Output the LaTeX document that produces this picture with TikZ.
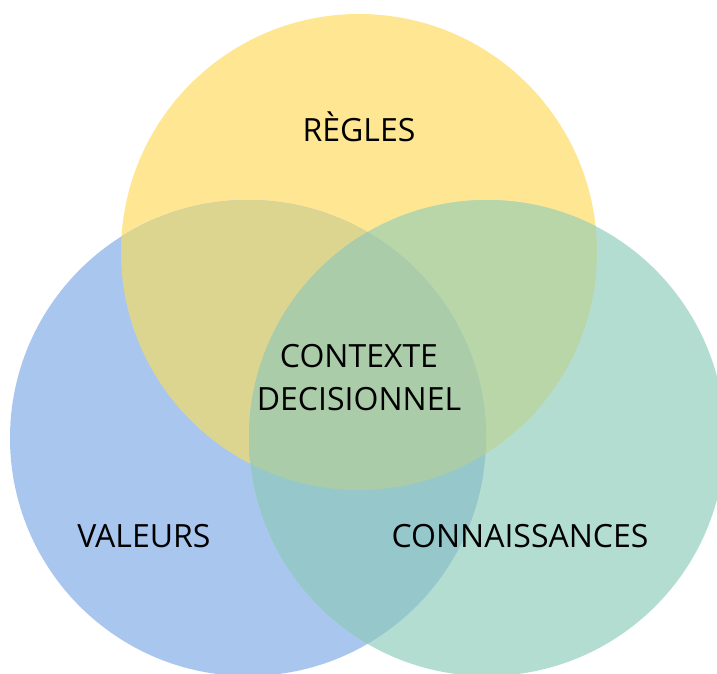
\documentclass[tikz,border=0pt]{standalone}
\usepackage{fontspec}
\setmainfont{Open Sans}
\definecolor{cY}{HTML}{FFE693}
\definecolor{cB}{HTML}{A9C6EE}
\definecolor{cG}{HTML}{B4DDD2}
\definecolor{cYB}{HTML}{DCD590}
\definecolor{cYG}{HTML}{B8D6A8}
\definecolor{cBG}{HTML}{96C7CB}
\definecolor{cYBG}{HTML}{ABCCA8}
\tikzset{lbl/.style={font=\fontsize{32}{43}\selectfont, text=black, align=center, inner sep=0pt}}
\begin{document}
\begin{tikzpicture}[x=1pt,y=1pt]
\useasboundingbox (0,0) rectangle (717,673);
\clip (0,0) rectangle (717,673);
\def\cY{(359,421) circle (238)}
\def\cB{(248,235) circle (238)}
\def\cG{(487,235) circle (238)}
\fill[cY] \cY;
\fill[cB] \cB;
\fill[cG] \cG;
\begin{scope}\clip \cY; \fill[cYB] \cB; \end{scope}
\begin{scope}\clip \cY; \fill[cYG] \cG; \end{scope}
\begin{scope}\clip \cB; \fill[cBG] \cG; \end{scope}
\begin{scope}\clip \cY; \clip \cB; \fill[cYBG] \cG; \end{scope}
\node[lbl] (regles) at (359,546) {RÈGLES};
\node[lbl] (ctx) at (359,295) {CONTEXTE\\DECISIONNEL};
\node[lbl] (val) at (144,137) {VALEURS};
\node[lbl] (con) at (520,137) {CONNAISSANCES};
\end{tikzpicture}
\end{document}
